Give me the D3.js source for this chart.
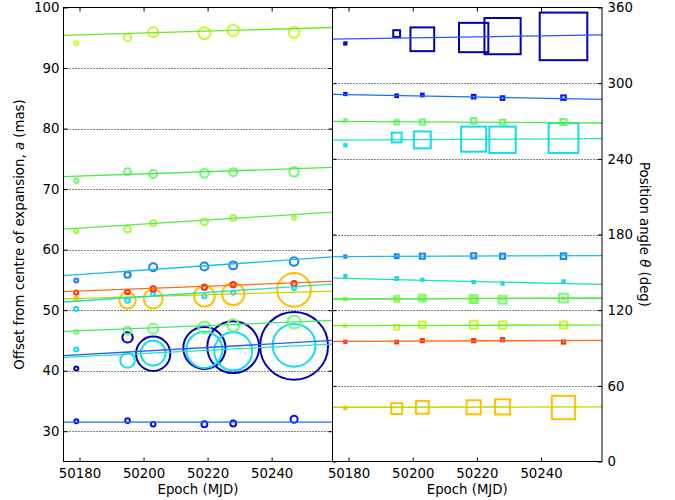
<!DOCTYPE html>
<html>
<head>
<meta charset="utf-8">
<script src="https://cdn.jsdelivr.net/npm/d3@7"></script>
<style>
  html, body { margin: 0; padding: 0; background: #fff; }
  svg { display: block; font-family: "DejaVu Sans", sans-serif; }
</style>
</head>
<body>
<svg id="chart" width="675" height="500"></svg>
<script>
// Observing epochs (MJD) and the epoch span over which the fitted trends are drawn
const epochs = [50179, 50195, 50203, 50219, 50228, 50247];
const fitEpochs = [50175, 50259];

// Components, listed in drawing order
const components = ["I", "J", "H", "F", "G", "E", "D", "K", "C", "B", "A"];

// Offset from the centre of expansion, a (mas), one row per component
const offsetMas = [
  [40.35, 45.5, 42.8, 43.75, 43.9, 44.1],   // I
  [43.5, 41.7, 42.9, 43.45, 43.2, 44.2],    // J
  [46.4, 46.6, 46.95, 47.15, 47.5, 48.05],  // H
  [51.9, 51.6, 51.85, 52.3, 52.65, 53.35],  // F
  [50.2, 51.6, 52.7, 52.3, 52.9, 53.65],    // G
  [52.9, 53.0, 53.5, 53.8, 54.2, 54.4],     // E
  [54.9, 55.85, 57.1, 57.2, 57.4, 58.05],   // D
  [31.65, 31.75, 31.15, 31.15, 31.27, 31.98], // K
  [63.05, 63.4, 64.4, 64.6, 65.25, 65.25],  // C
  [71.4, 72.9, 72.5, 72.6, 72.8, 72.85],    // B
  [94.1, 95.05, 95.9, 95.75, 96.2, 95.9]    // A
];

// Position angle, theta (deg)
const angleDeg = [
  [331.5, 339.3, 334.8, 336.2, 337.3, 337.1], // I
  [250.8, 256.9, 255.0, 255.6, 255.1, 256.5], // J
  [128.8, 129.3, 129.6, 128.8, 128.3, 129.6], // H
  [42.5, 42.0, 43.0, 43.0, 43.3, 42.8],       // F
  [147.0, 145.1, 144.1, 142.3, 141.2, 142.8], // G
  [95.0, 94.7, 95.8, 95.8, 96.6, 94.7],       // E
  [162.5, 162.8, 162.8, 163.1, 162.8, 162.8], // D
  [291.4, 290.0, 290.6, 289.3, 288.2, 288.5], // K
  [128.8, 128.3, 129.6, 129.0, 129.8, 129.4], // C
  [270.5, 269.0, 269.2, 270.0, 269.0, 269.2], // B
  [107.7, 106.3, 108.5, 108.5, 108.2, 108.2]  // A
];

// Component size (mas), shown as marker diameter on the offset scale
const sizeMas = [
  [1.0, 2.05, 6.0, 7.3, 8.9, 11.55], // I
  [1.0, 2.75, 4.4, 6.3, 6.6, 7.4],   // J
  [1.0, 1.65, 2.0, 2.3, 2.3, 2.5],   // H
  [1.0, 3.0, 3.45, 3.75, 4.0, 5.9],  // F
  [1.0, 1.1, 1.0, 1.0, 1.0, 1.0],    // G
  [1.0, 1.1, 1.2, 1.2, 1.2, 1.2],    // E
  [1.0, 1.35, 1.65, 1.65, 1.65, 1.75], // D
  [1.0, 1.1, 1.1, 1.3, 1.3, 1.5],    // K
  [1.0, 1.45, 1.35, 1.5, 1.3, 0.95], // C
  [1.0, 1.45, 1.65, 1.75, 1.65, 1.9], // B
  [1.0, 1.55, 2.0, 2.3, 2.2, 2.1]    // A
];

// Fitted trends, evaluated at fitEpochs
const offsetFit = [
  [42.5, 45.0], [42.2, 44.4], [46.5, 48.3], [51.85, 53.15], [51.35, 54.3],
  [53.05, 54.75], [55.7, 58.8], [31.5, 31.5], [63.4, 66.2], [72.05, 73.6], [95.4, 96.7]
];
const angleFit = [
  [334.9, 338.3], [254.9, 256.0], [128.8, 129.6], [43.0, 43.3], [145.4, 140.4],
  [95.3, 96.0], [162.5, 163.3], [291.1, 287.2], [128.8, 129.6], [269.7, 268.4], [107.7, 108.2]
];

// Axis ticks
const offsetTicks = [30, 40, 50, 60, 70, 80, 90, 100];
const angleTicks = [0, 60, 120, 180, 240, 300, 360];
const epochTicks = [50180, 50200, 50220, 50240];

// Styling
const markerColours = ["#0000b4", "#12dcf0", "#74fa7c", "#ffc000", "#14d4fa", "#ff2c0c",
                       "#1680ff", "#0010f8", "#a6fa46", "#6cfa72", "#c6fa2c"];
const lineColours   = ["#2a56ff", "#22e6b0", "#44ec5c", "#c4d400", "#1ee2b0", "#ff6a14",
                       "#16bede", "#1a6cff", "#58ec40", "#48ec44", "#6cec24"];

const svg = d3.select("#chart");
const plotTop = 7.5, plotBottom = 461.5;
const panels = [
  { x0: 63.5, x1: 332.5, domain: [25, 100], ticks: offsetTicks, values: offsetMas, fits: offsetFit, marker: "circle", side: "left" },
  { x0: 332.5, x1: 602, domain: [0, 360], ticks: angleTicks, values: angleDeg, fits: angleFit, marker: "square", side: "right" }
];

const offsetScale = d3.scaleLinear([25, 100], [plotBottom, plotTop]);
const pxPerMas = Math.abs(offsetScale(26) - offsetScale(25));
const fontSize = 13.3;

panels.forEach(p => {
  const x = d3.scaleLinear(fitEpochs, [p.x0, p.x1]);
  const y = d3.scaleLinear(p.domain, [plotBottom, plotTop]);
  const g = svg.append("g");

  // dotted grid at interior ticks
  g.append("g").selectAll("line")
    .data(p.ticks.filter(t => t > p.domain[0] && t < p.domain[1]))
    .join("line")
    .attr("x1", p.x0).attr("x2", p.x1)
    .attr("y1", d => Math.round(y(d)) + 0.5).attr("y2", d => Math.round(y(d)) + 0.5)
    .attr("stroke", "#000").attr("stroke-width", 1).attr("stroke-dasharray", "1,2");

  const clipId = "clip-" + p.side;
  svg.append("clipPath").attr("id", clipId).append("rect")
    .attr("x", p.x0).attr("y", plotTop).attr("width", p.x1 - p.x0).attr("height", plotBottom - plotTop);

  const plot = g.append("g").attr("clip-path", `url(#${clipId})`);

  // markers
  components.forEach((c, i) => {
    const pts = epochs.map((e, j) => ({ e, v: p.values[i][j], s: sizeMas[i][j] }));
    const sel = plot.append("g").attr("stroke", markerColours[i]).attr("stroke-width", 2).attr("fill", "none");
    if (p.marker === "circle") {
      sel.selectAll("circle").data(pts).join("circle")
        .attr("cx", d => x(d.e)).attr("cy", d => y(d.v))
        .attr("r", d => Math.max(d.s * pxPerMas / 2 - 1, 0.9));
    } else {
      sel.selectAll("rect").data(pts).join("rect")
        .each(function (d) {
          const h = Math.max(d.s * pxPerMas / 2 / 1.41 - 1, 0.6);
          d3.select(this).attr("x", x(d.e) - h).attr("y", y(d.v) - h)
            .attr("width", 2 * h).attr("height", 2 * h);
        });
    }
  });

  // fitted trends
  components.forEach((c, i) => {
    plot.append("line")
      .attr("x1", x(fitEpochs[0])).attr("y1", y(p.fits[i][0]))
      .attr("x2", x(fitEpochs[1])).attr("y2", y(p.fits[i][1]))
      .attr("stroke", lineColours[i]).attr("stroke-width", 1.3);
  });

  // axes with inward ticks
  const styleAxis = a => {
    a.select(".domain").remove();
    a.selectAll("text").attr("font-size", fontSize).attr("font-family", "DejaVu Sans, sans-serif").attr("fill", "#000");
    a.selectAll("line").attr("stroke", "#000");
  };
  g.append("g").attr("transform", `translate(0,${plotBottom})`)
    .call(d3.axisBottom(x).tickValues(epochTicks).tickFormat(d3.format("d")).tickSizeInner(-4).tickSizeOuter(0).tickPadding(7))
    .call(styleAxis);
  g.append("g").attr("transform", `translate(0,${plotTop})`)
    .call(d3.axisTop(x).tickValues(epochTicks).tickFormat("").tickSizeInner(-4).tickSizeOuter(0))
    .call(styleAxis);
  g.append("g").attr("transform", `translate(${p.x0},0)`)
    .call(d3.axisLeft(y).tickValues(p.ticks).tickFormat(p.side === "left" ? d3.format("d") : "").tickSizeInner(-4).tickSizeOuter(0).tickPadding(4))
    .call(styleAxis);
  g.append("g").attr("transform", `translate(${p.x1},0)`)
    .call(d3.axisRight(y).tickValues(p.ticks).tickFormat(p.side === "right" ? d3.format("d") : "").tickSizeInner(-4).tickSizeOuter(0).tickPadding(5.5))
    .call(styleAxis);

  // frame
  g.append("rect").attr("x", p.x0).attr("y", plotTop).attr("width", p.x1 - p.x0).attr("height", plotBottom - plotTop)
    .attr("fill", "none").attr("stroke", "#000").attr("stroke-width", 1);

  // x label
  g.append("text").attr("x", (p.x0 + p.x1) / 2).attr("y", 493.5)
    .attr("text-anchor", "middle").attr("font-size", fontSize).text("Epoch (MJD)");
});

// y labels
const yl = svg.append("text").attr("transform", `translate(23.5,${(plotTop + plotBottom) / 2}) rotate(-90)`)
  .attr("text-anchor", "middle").attr("font-size", fontSize);
yl.append("tspan").text("Offset from centre of expansion, ");
yl.append("tspan").attr("font-style", "italic").text("a");
yl.append("tspan").text(" (mas)");

const yr = svg.append("text").attr("transform", `translate(639.5,${(plotTop + plotBottom) / 2}) rotate(90)`)
  .attr("text-anchor", "middle").attr("font-size", fontSize);
yr.append("tspan").text("Position angle ");
yr.append("tspan").attr("font-style", "italic").text("θ");
yr.append("tspan").text(" (deg)");
</script>
</body>
</html>
